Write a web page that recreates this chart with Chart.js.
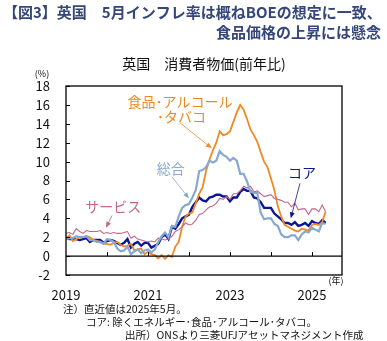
<!DOCTYPE html>
<html>
<head>
<meta charset="utf-8">
<script src="https://cdn.jsdelivr.net/npm/chart.js@4.4.1/dist/chart.umd.min.js"></script>
<style>
  html, body { margin: 0; padding: 0; background: #fff; }
  #wrap { position: relative; width: 387px; height: 341px; }
</style>
</head>
<body>
<div id="wrap"><canvas id="cpi" width="387" height="341"></canvas></div>
<script>
// ===== DATA (monthly, Jan 2019 - May 2025, % y/y) =====
const FIRST_YEAR = 2019;
const YEAR_LABELS = ['2019', '', '2021', '', '2023', '', '2025'];
const Y_TICKS = [-2, 0, 2, 4, 6, 8, 10, 12, 14, 16, 18];

const headline = [
  1.8, 1.9, 1.9, 2.1, 2.0, 2.0, 2.1, 1.7, 1.7, 1.5, 1.5, 1.3,
  1.8, 1.7, 1.5, 0.8, 0.5, 0.6, 1.0, 0.2, 0.5, 0.7, 0.3, 0.6,
  0.7, 0.4, 0.7, 1.5, 2.1, 2.5, 2.0, 3.2, 3.1, 4.2, 5.1, 5.4,
  5.5, 6.2, 7.0, 9.0, 9.1, 9.4, 10.1, 9.9, 10.1, 11.1, 10.7, 10.5,
  10.1, 10.4, 10.1, 8.7, 8.7, 7.9, 6.8, 6.7, 6.7, 4.6, 3.9, 4.0,
  4.0, 3.4, 3.2, 2.3, 2.0, 2.0, 2.2, 2.2, 1.7, 2.3, 2.6, 2.5,
  3.0, 2.8, 2.6, 3.5, 3.4,
];
const foodAlcTobacco = [
  1.9, 2.2, 1.6, 1.8, 2.0, 2.0, 2.1, 2.0, 1.7, 1.6, 1.5, 1.3,
  1.3, 1.2, 1.4, 1.5, 1.2, 1.0, 1.1, 1.3, 0.6, 0.7, 0.8, 0.2,
  0.45, 0.2, 0.1, -0.25, 0.1, -0.3, 0.1, -0.1, 1.0, 1.5, 3.1, 4.2,
  4.5, 4.6, 5.6, 6.6, 7.3, 9.0, 10.2, 11.2, 12.0, 13.2, 12.8, 12.9,
  13.2, 14.2, 15.2, 16.0, 15.5, 14.5, 13.4, 12.8, 12.1, 11.0, 10.0, 9.4,
  8.2, 7.0, 5.3, 4.2, 3.3, 3.1, 2.9, 2.7, 2.6, 2.9, 2.8, 2.7,
  3.3, 3.4, 3.3, 3.6, 4.7,
];
const services = [
  2.4, 2.5, 2.3, 2.9, 2.6, 2.4, 2.7, 2.6, 2.6, 2.6, 2.7, 2.4,
  2.5, 2.4, 2.5, 2.4, 2.4, 2.5, 2.6, 1.9, 2.1, 1.8, 1.7, 1.6,
  1.5, 1.6, 1.5, 1.9, 1.8, 1.7, 1.8, 2.1, 2.6, 2.8, 3.1, 3.5,
  3.3, 3.4, 3.8, 4.4, 4.5, 4.9, 5.2, 5.3, 5.6, 6.1, 6.0, 6.3,
  6.0, 6.6, 6.6, 6.9, 7.4, 7.2, 7.4, 6.8, 6.9, 6.6, 6.3, 6.4,
  6.5, 6.1, 6.0, 5.9, 5.7, 5.7, 5.2, 5.6, 4.9, 5.0, 5.0, 4.4,
  5.0, 5.0, 4.7, 5.4, 4.7,
];
const core = [
  1.9, 1.8, 1.8, 1.8, 1.7, 1.8, 1.9, 1.5, 1.7, 1.7, 1.7, 1.4,
  1.6, 1.7, 1.6, 1.4, 1.2, 1.4, 1.8, 0.9, 1.3, 1.5, 1.1, 1.4,
  1.4, 0.9, 1.1, 1.3, 2.0, 2.3, 1.8, 3.1, 2.9, 3.4, 4.0, 4.2,
  4.4, 5.2, 5.7, 6.2, 5.9, 5.8, 6.2, 6.3, 6.5, 6.5, 6.3, 6.3,
  5.8, 6.2, 6.2, 6.8, 7.1, 6.9, 6.9, 6.2, 6.1, 5.7, 5.1, 5.1,
  5.1, 4.5, 4.2, 3.9, 3.5, 3.5, 3.3, 3.6, 3.2, 3.3, 3.5, 3.2,
  3.7, 3.5, 3.4, 3.8, 3.5,
];

const COLORS = {
  headline: '#87a8cf',
  food: '#ee8a24',
  services: '#c3668a',
  core: '#0a1696',
  title: '#34467a',
};

const FONT = '"Noto Sans CJK JP", "Noto Sans", sans-serif';

// labels + arrows, positions in data units (month index, %)
const NOTES = [
  { text: '食品･アルコール', m: 33.4, v: 16.3, color: COLORS.food },
  { text: '･タバコ', m: 33.8, v: 14.7, color: COLORS.food },
  { text: '総合', m: 30.7, v: 9.3, color: COLORS.headline },
  { text: 'サービス', m: 13.8, v: 5.2, color: COLORS.services },
  { text: 'コア', m: 69.1, v: 8.8, color: COLORS.core },
];
const ARROWS = [
  { from: [33.4, 14.1], to: [42.7, 11.4], color: COLORS.food },
  { from: [31.0, 8.4], to: [36.0, 6.1], color: COLORS.headline },
  { from: [13.5, 4.3], to: [11.7, 3.0], color: COLORS.services },
  { from: [68.5, 7.7], to: [65.8, 4.0], color: COLORS.core },
];

const pts = arr => arr.map((v, i) => ({ x: i, y: v }));

function arrow(ctx, x1, y1, x2, y2, color) {
  const a = Math.atan2(y2 - y1, x2 - x1);
  ctx.strokeStyle = color;
  ctx.fillStyle = color;
  ctx.lineWidth = 0.8;
  ctx.beginPath();
  ctx.moveTo(x1, y1);
  ctx.lineTo(x2 - 4 * Math.cos(a), y2 - 4 * Math.sin(a));
  ctx.stroke();
  ctx.beginPath();
  ctx.moveTo(x2, y2);
  ctx.lineTo(x2 - 6 * Math.cos(a) + 2.5 * Math.sin(a), y2 - 6 * Math.sin(a) - 2.5 * Math.cos(a));
  ctx.lineTo(x2 - 6 * Math.cos(a) - 2.5 * Math.sin(a), y2 - 6 * Math.sin(a) + 2.5 * Math.cos(a));
  ctx.closePath();
  ctx.fill();
}

const decor = {
  id: 'decor',
  afterDatasetsDraw(chart) {
    const { ctx, chartArea: a, scales: { x, y } } = chart;
    ctx.save();
    // frame and zero line
    ctx.strokeStyle = '#000';
    ctx.lineWidth = 1.3;
    ctx.strokeRect(a.left, a.top, a.right - a.left, a.bottom - a.top);
    const y0 = y.getPixelForValue(0);
    ctx.beginPath();
    ctx.moveTo(a.left, y0);
    ctx.lineTo(a.right, y0);
    ctx.stroke();
    // inward tick marks
    ctx.lineWidth = 1;
    ctx.beginPath();
    Y_TICKS.forEach(t => {
      const py = Math.round(y.getPixelForValue(t)) + 0.5;
      ctx.moveTo(a.left, py);
      ctx.lineTo(a.left + 4, py);
    });
    YEAR_LABELS.forEach((_, i) => {
      if (i === 0) return;
      const px = Math.round(x.getPixelForValue(i * 12)) + 0.5;
      ctx.moveTo(px, y0);
      ctx.lineTo(px, y0 - 4);
    });
    ctx.stroke();

    // series labels + arrows
    ctx.textAlign = 'center';
    ctx.textBaseline = 'middle';
    ctx.font = '14px ' + FONT;
    NOTES.forEach(n => {
      ctx.fillStyle = n.color;
      ctx.fillText(n.text, x.getPixelForValue(n.m), y.getPixelForValue(n.v));
    });
    ARROWS.forEach(r => arrow(ctx,
      x.getPixelForValue(r.from[0]), y.getPixelForValue(r.from[1]),
      x.getPixelForValue(r.to[0]), y.getPixelForValue(r.to[1]), r.color));

    // header
    ctx.fillStyle = COLORS.title;
    ctx.font = 'bold 15px ' + FONT;
    ctx.textAlign = 'left';
    ctx.fillText('【図3】英国　5月インフレ率は概ねBOEの想定に一致、', 3, 12);
    ctx.textAlign = 'right';
    ctx.fillText('食品価格の上昇には懸念', 381, 32);

    // chart title + units
    ctx.fillStyle = '#111';
    ctx.textAlign = 'center';
    ctx.font = '14px ' + FONT;
    ctx.fillText('英国　消費者物価(前年比)', 204, 64);
    ctx.font = '9px ' + FONT;
    ctx.fillText('(%)', 42, 74);
    ctx.fillText('(年)', 336, 281);

    // footnotes
    ctx.textAlign = 'left';
    ctx.font = '10.5px ' + FONT;
    ctx.fillText('注）直近値は2025年5月。', 63, 309);
    ctx.fillText('コア: 除くエネルギー･食品･アルコール･タバコ。', 86, 322);
    ctx.fillText('出所）ONSより三菱UFJアセットマネジメント作成', 125, 335);
    ctx.restore();
  },
};

const line = (data, color, width) => ({
  data: pts(data),
  borderColor: color,
  borderWidth: width,
  pointRadius: 0,
  tension: 0,
  fill: false,
});

new Chart(document.getElementById('cpi'), {
  type: 'line',
  data: {
    datasets: [
      line(headline, COLORS.headline, 2.2),
      line(services, COLORS.services, 1.1),
      line(foodAlcTobacco, COLORS.food, 1.8),
      line(core, COLORS.core, 2.4),
    ],
  },
  options: {
    responsive: false,
    animation: false,
    devicePixelRatio: 1,
    layout: { padding: { top: 86, right: 45, left: 0, bottom: 0 } },
    plugins: { legend: { display: false }, tooltip: { enabled: false } },
    scales: {
      x: {
        type: 'linear',
        min: 0, max: 80.8,
        grid: { display: false, drawTicks: false },
        border: { display: false },
        afterBuildTicks: s => { s.ticks = YEAR_LABELS.map((_, i) => ({ value: i * 12 })); },
        afterFit: s => { s.height = 66; },
        ticks: {
          autoSkip: false, maxRotation: 0, padding: 12,
          color: '#111', font: { family: FONT, size: 13 },
          callback: (v) => YEAR_LABELS[Math.round(v / 12)] || '',
        },
      },
      y: {
        min: -2, max: 18,
        grid: { display: false, drawTicks: false },
        border: { display: false },
        afterBuildTicks: s => { s.ticks = Y_TICKS.map(v => ({ value: v })); },
        afterFit: s => { s.width = 66; },
        ticks: { padding: 16, color: '#111', font: { family: FONT, size: 13 } },
      },
    },
  },
  plugins: [decor],
});
</script>
</body>
</html>
